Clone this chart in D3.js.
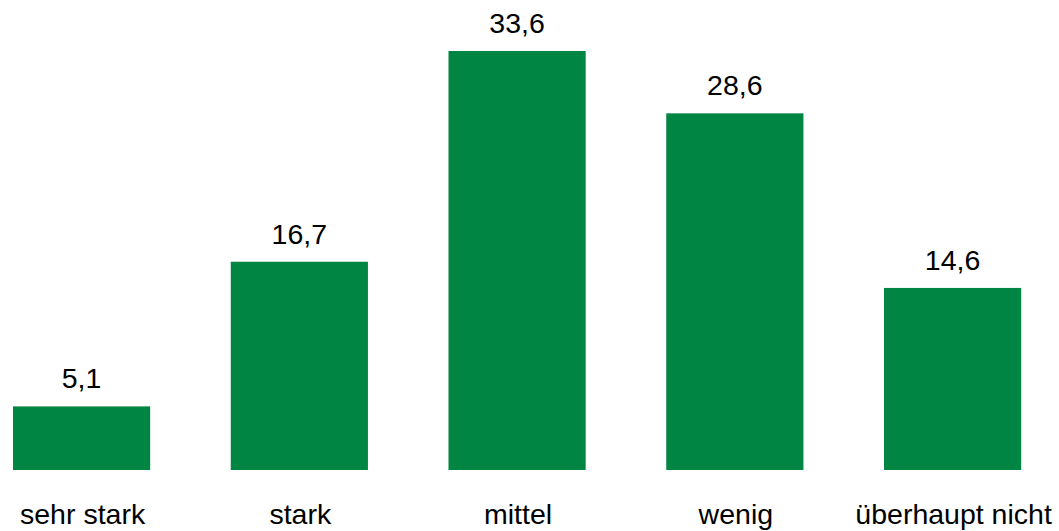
<!DOCTYPE html>
<html>
<head>
<meta charset="utf-8">
<script src="https://cdn.jsdelivr.net/npm/d3@7"></script>
<style>
  html, body { margin: 0; padding: 0; background: #fff; }
  svg { display: block; }
  text { font-family: Arial, "Liberation Sans", sans-serif; fill: #000; }
</style>
</head>
<body>
<div id="chart"></div>
<script>
// Antwortkategorien und Prozentwerte
const kategorien = ["sehr stark", "stark", "mittel", "wenig", "überhaupt nicht"];
const werte = [5.1, 16.7, 33.6, 28.6, 14.6];
const wertLabels = ["5,1", "16,7", "33,6", "28,6", "14,6"];

const W = 1059, H = 531;
const GRUEN = "#008542";
const basis = 470;               // Grundlinie der Balken
const step = 217.75;

const svg = d3.select("#chart").append("svg")
  .attr("width", W).attr("height", H);

const x = d3.scaleBand()
  .domain(kategorien)
  .range([13 - 0.185 * step, 13 - 0.185 * step + 5 * step])
  .paddingInner(0.37).paddingOuter(0.185);

const y = d3.scaleLinear().domain([0, 33.6]).range([basis, 51]);

const daten = kategorien.map((k, i) => ({ k, v: werte[i], t: wertLabels[i] }));

svg.append("g").selectAll("rect")
  .data(daten).join("rect")
  .attr("x", (d) => x(d.k))
  .attr("width", x.bandwidth())
  .attr("y", (d) => y(d.v))
  .attr("height", (d) => basis - y(d.v))
  .attr("fill", GRUEN);

svg.append("g").selectAll("text")
  .data(daten).join("text")
  .attr("x", (d) => x(d.k) + x.bandwidth() / 2)
  .attr("y", (d) => y(d.v) - 18)
  .attr("text-anchor", "middle")
  .style("font-size", "28.5px")
  .text((d) => d.t);

svg.append("g").selectAll("text")
  .data(daten).join("text")
  .attr("x", (d) => x(d.k) + x.bandwidth() / 2 + 1)
  .attr("y", 524)
  .attr("text-anchor", "middle")
  .style("font-size", "28.5px")
  .text((d) => d.k);
</script>
</body>
</html>
